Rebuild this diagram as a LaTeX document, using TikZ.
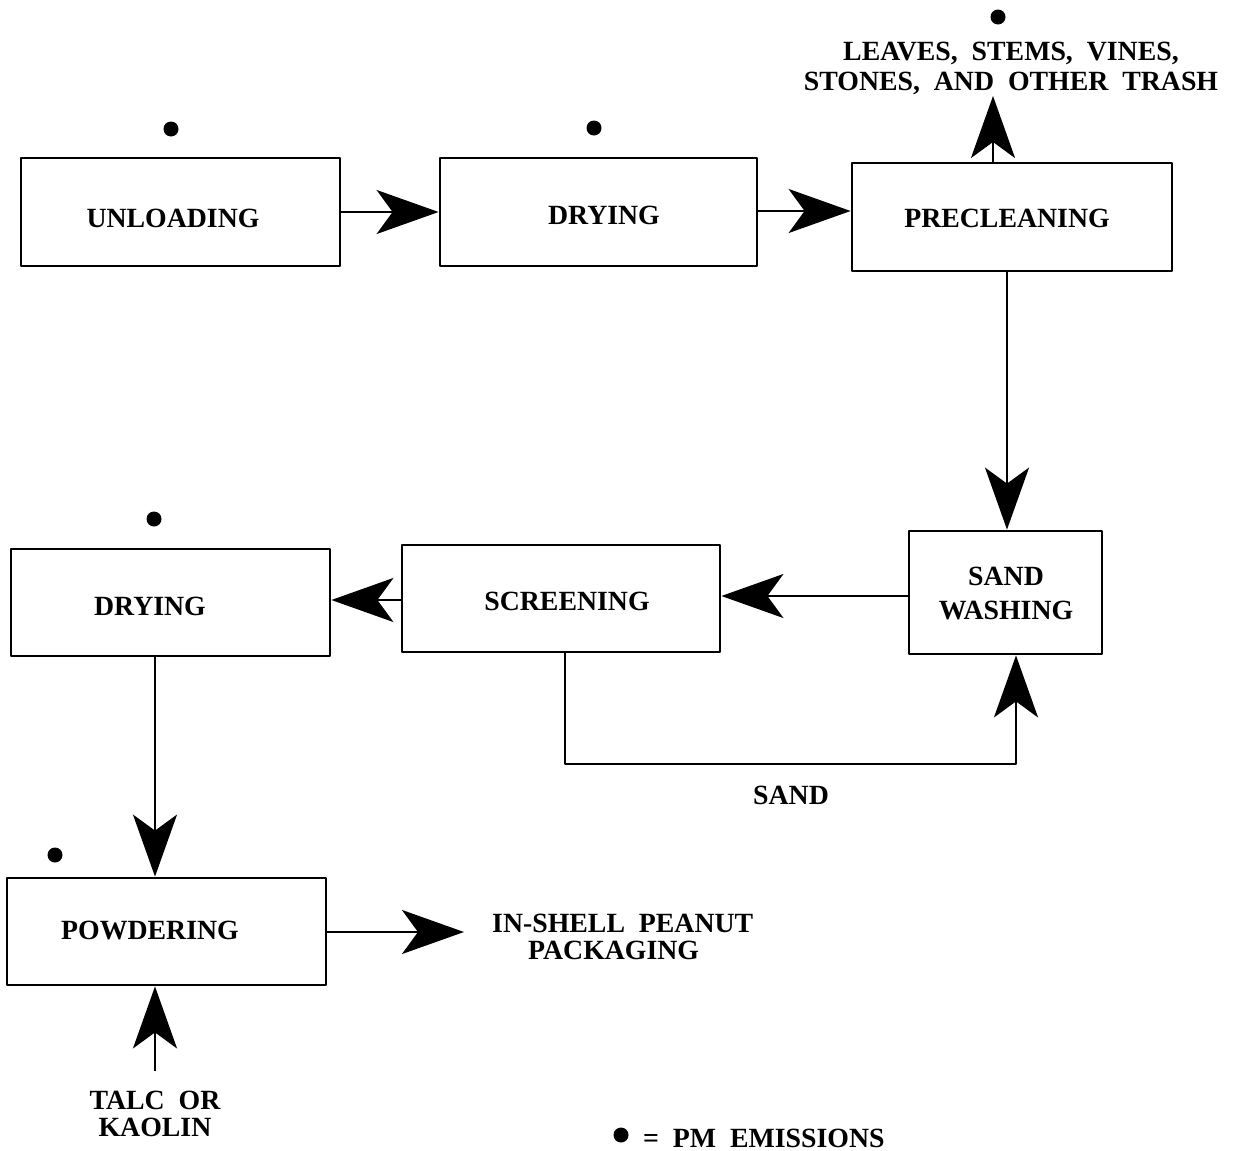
\documentclass[tikz,border=0pt]{standalone}
\usepackage{fontspec}
\setmainfont{Liberation Serif}
\usetikzlibrary{arrows.meta,calc}
\begin{document}
\begin{tikzpicture}[x=1pt,y=-1pt,
  every node/.style={font=\fontsize{27.8}{30}\selectfont\bfseries, inner sep=0pt},
  procbox/.style={draw, line width=2.8pt, rectangle, line join=round},
  flow/.style={line width=2.5pt, -{Stealth[length=62pt,width=44pt,inset=16pt]}},
  pmdot/.style={circle, fill=black, minimum size=15pt, inner sep=0pt}]
\useasboundingbox (0,0) rectangle (1234,1151);

% boxes
\node[procbox, minimum width=319pt, minimum height=108pt] (unl) at (180.5,212) {};
\node[procbox, minimum width=317pt, minimum height=108pt] (dry1) at (598.5,212) {};
\node[procbox, minimum width=320pt, minimum height=108pt] (pre) at (1012,217) {};
\node[procbox, minimum width=193pt, minimum height=123pt] (sw) at (1005.5,592.5) {};
\node[procbox, minimum width=318pt, minimum height=107pt] (scr) at (561,598.5) {};
\node[procbox, minimum width=319pt, minimum height=107pt] (dry2) at (170.5,602.5) {};
\node[procbox, minimum width=319pt, minimum height=107pt] (pow) at (166.5,931.5) {};

% box texts
\node (tunl) at (173,218) {UNLOADING};
\node (tdry1) at (604,215) {DRYING};
\node (tpre) at (1007,218) {PRECLEANING};
\node[align=center, font=\fontsize{27.8}{34}\selectfont\bfseries] (tsw) at (1006,593) {SAND\\WASHING};
\node (tscr) at (567,601) {SCREENING};
\node (tdry2) at (150,606) {DRYING};
\node (tpow) at (150,930) {POWDERING};

% PM dots
\node[pmdot] (d1) at (171,129) {};
\node[pmdot] (d2) at (594,128) {};
\node[pmdot] (d3) at (998,17) {};
\node[pmdot] (d4) at (154,519) {};
\node[pmdot] (d5) at (55,855) {};
\node[pmdot] (d6) at (621,1135) {};

% other texts
\node[align=center, font=\fontsize{27.8}{30}\selectfont\bfseries] (trash) at (1011,68) {LEAVES, \ STEMS, \ VINES,\\STONES, \ AND \ OTHER \ TRASH};
\node (sand) at (791,795) {SAND};
\node[align=left, font=\fontsize{27.8}{26.5}\selectfont\bfseries, anchor=north west] (ip) at (492,914) {IN-SHELL \ PEANUT\\\hspace*{36pt}PACKAGING};
\node[align=center, font=\fontsize{27.8}{27}\selectfont\bfseries] (talc) at (155,1114) {TALC \ OR\\KAOLIN};
\node[anchor=west] (leg) at (643,1138) {= \ PM \ EMISSIONS};

% coordinates
\coordinate (trashin) at (993,96);
\coordinate (packin) at (464,932);
\coordinate (talcout) at (155,1071);
\coordinate (sb1) at (565,764);
\coordinate (sb2) at (1016,764);

% connectors
\draw[flow] (unl.east |- 0,212) -- (dry1.west |- 0,212);
\draw[flow] (dry1.east |- 0,211) -- (pre.west |- 0,211);
\draw[flow] (pre.north -| trashin) -- (trashin);
\draw[flow] (pre.south -| 1007,0) -- (sw.north -| 1007,0);
\draw[flow] (sw.west |- 0,596) -- (scr.east |- 0,596);
\draw[flow] (scr.west |- 0,600) -- (dry2.east |- 0,600);
\draw[flow] (dry2.south -| 155,0) -- (pow.north -| 155,0);
\draw[flow] (pow.east |- packin) -- (packin);
\draw[flow] (talcout) -- (pow.south -| talcout);
\draw[flow, line join=round] (scr.south -| sb1) -- (sb1) -- (sb2) -- (sw.south -| sb2);
\end{tikzpicture}
\end{document}
